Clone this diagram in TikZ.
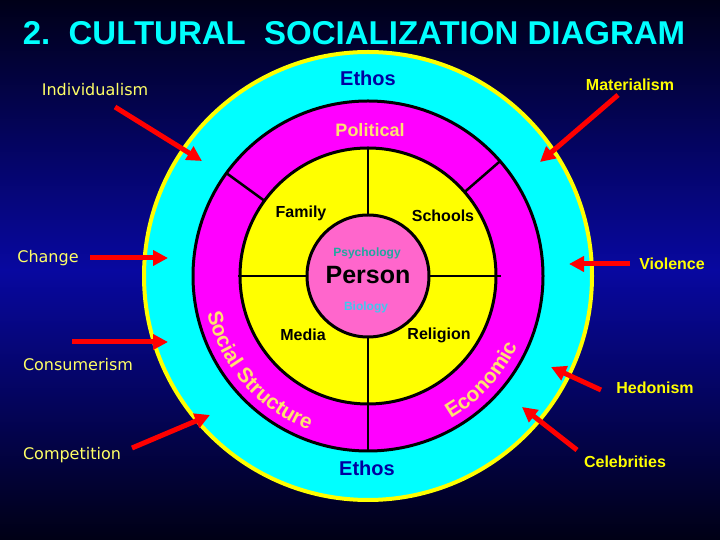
\documentclass[tikz,border=0pt]{standalone}
\usepackage{fontspec}
\setmainfont{Liberation Sans}
\newfontfamily\tah{DejaVu Sans}
\usetikzlibrary{decorations.text,arrows.meta,calc}
\definecolor{ttl}{HTML}{00FFFF}
\definecolor{cyanr}{HTML}{00FFFF}
\definecolor{magr}{HTML}{FF00FF}
\definecolor{yelr}{HTML}{FFFF00}
\definecolor{pinkr}{HTML}{FF66CC}
\definecolor{ethc}{HTML}{0000A0}
\definecolor{polc}{HTML}{FFE070}
\definecolor{psyc}{HTML}{20A8A0}
\definecolor{bioc}{HTML}{40C8F0}
\definecolor{wordc}{HTML}{FFFF66}
\definecolor{wordb}{HTML}{FFFF00}
\definecolor{bgtop}{HTML}{000018}
\definecolor{bgmid}{HTML}{0808A0}
\definecolor{bgbot}{HTML}{000015}
\newcommand\ringfmt{\color{polc}\bfseries\fontsize{21}{21}\selectfont}
\begin{document}
\begin{tikzpicture}[x=1pt,y=1pt,
  lw/.style={text=wordc,font=\tah\fontsize{16}{16}\selectfont},
  rw/.style={text=wordb,font=\bfseries\fontsize{16}{16}\selectfont},
  seg/.style={font=\bfseries\fontsize{16}{16}\selectfont},
  arr/.style={red,line width=5pt,-{Triangle[length=15pt,width=15pt]}},
  div/.style={black,line width=2.5pt}]
\shade[top color=bgtop,bottom color=bgmid] (0,270) rectangle (720,540);
\shade[top color=bgmid,bottom color=bgbot] (0,0) rectangle (720,270.5);
\useasboundingbox (0,0) rectangle (720,540);
\coordinate (C) at (368,264);
% rings
\fill[cyanr] (C) circle (224);
\draw[yelr,line width=4pt] (C) circle (224);
\draw[fill=magr,line width=3pt] (C) circle (175);
\draw[fill=yelr,line width=3pt] (C) circle (128);
\draw[fill=pinkr,line width=3pt] (C) circle (61);
% dividers
\draw[div] ($(C)+(90:61)$) -- ($(C)+(90:128)$);
\draw[div] ($(C)+(270:61)$) -- ($(C)+(270:175)$);
\draw[div] ($(C)+(180:61)$) -- ($(C)+(180:130)$);
\draw[div] ($(C)+(0:61)$) -- ($(C)+(0:133)$);
\draw[div] ($(C)+(144:128)$) -- ($(C)+(144:175)$);
\draw[div] ($(C)+(41:128)$) -- ($(C)+(41:175)$);
% curved texts
\path[decorate,decoration={text along path,text align=center,text={|\ringfmt|Social Structure}}]
  ($(C)+(192:165)$) arc (192:250:165);
\path[decorate,decoration={text along path,text align=center,text={|\ringfmt|Economic}}]
  ($(C)+(-63:165)$) arc (-63:-22:165);
% title
\node[text=ttl,font=\bfseries\fontsize{33}{33}\selectfont] (title) at (354,507) {2.\ \ CULTURAL\ \ SOCIALIZATION DIAGRAM};
% ring labels
\node[text=ethc,font=\bfseries\fontsize{20}{20}\selectfont] (eth1) at (368,462) {Ethos};
\node[text=ethc,font=\bfseries\fontsize{20}{20}\selectfont] (eth2) at (367,72) {Ethos};
\node[text=polc,font=\bfseries\fontsize{18}{18}\selectfont] (pol) at (370,410) {Political};
\node[seg] (fam) at (301,327) {Family};
\node[seg] (sch) at (443,324) {Schools};
\node[seg] (med) at (303,205) {Media};
\node[seg] (rel) at (439,205) {Religion};
\node[text=psyc,font=\bfseries\fontsize{12}{12}\selectfont] (psy) at (367,287) {Psychology};
\node[font=\bfseries\fontsize{25}{25}\selectfont] (per) at (368,265) {Person};
\node[text=bioc,font=\bfseries\fontsize{12}{12}\selectfont] (bio) at (366,233) {Biology};
% outer words
\node[lw] (ind) at (95,450) {Individualism};
\node[lw] (chg) at (48,282) {Change};
\node[lw] (con) at (78,175) {Consumerism};
\node[lw] (com) at (72,85) {Competition};
\node[rw] (mat) at (630,455) {Materialism};
\node[rw] (vio) at (672,276) {Violence};
\node[rw] (hed) at (655,152) {Hedonism};
\node[rw] (cel) at (625,78) {Celebrities};
% arrows
\coordinate (a1s) at (115,433); \coordinate (a1e) at (202,379);
\coordinate (a2s) at (90,282);  \coordinate (a2e) at (168,282);
\coordinate (a3s) at (72,198);  \coordinate (a3e) at (168,198);
\coordinate (a4s) at (132,92);  \coordinate (a4e) at (210,125);
\coordinate (a5s) at (618,445); \coordinate (a5e) at (540,378);
\coordinate (a6s) at (630,276); \coordinate (a6e) at (569,276);
\coordinate (a7s) at (601,150); \coordinate (a7e) at (551,173);
\coordinate (a8s) at (577,90);  \coordinate (a8e) at (522,133);
\foreach \i in {1,...,8} {\draw[arr] (a\i s) -- (a\i e);}
\end{tikzpicture}
\end{document}
